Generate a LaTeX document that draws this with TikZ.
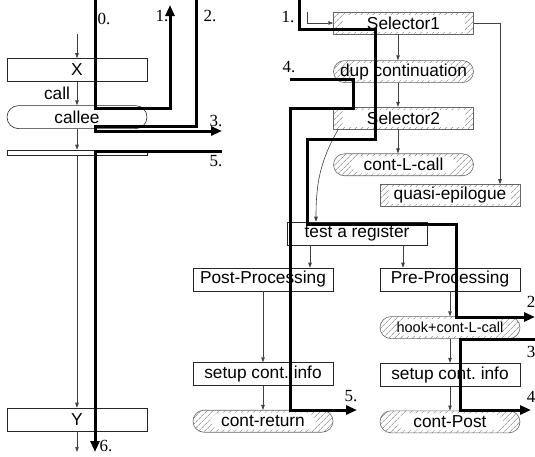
\documentclass[tikz,border=0pt]{standalone}
\usepackage{fontspec}
\setmainfont{Liberation Serif}
\setsansfont{Liberation Sans}
\usetikzlibrary{arrows.meta, positioning, patterns.meta}

\begin{document}
\begin{tikzpicture}[
    x=1pt, y=-1pt,
    font=\sffamily\fontsize{17.3}{20}\selectfont,
    box/.style={
        rectangle, minimum width=140pt, minimum height=23pt,
        inner sep=0pt, draw=black!85, line width=0.6pt, fill=white
    },
    hbox/.style={
        box, minimum height=22pt, draw=black!60,
        pattern={Lines[angle=45, distance=4pt, line width=0.5pt]},
        pattern color=black!55,
        path picture={\fill[white]
            ([shift={(#1,-2.5pt)}]path picture bounding box.north west) rectangle
            ([shift={(-#1,2.5pt)}]path picture bounding box.south east);}
    },
    hbox/.default=9pt,
    hround/.style={hbox=17pt, rounded corners=11pt},
    round/.style={box, rounded corners=11.5pt},
    num/.style={font=\rmfamily\fontsize{17}{20}\selectfont, inner sep=0pt},
    arr/.style={-{Triangle[length=5pt, width=3.5pt]}, draw=black!75, line width=0.6pt},
    flow/.style={-{Triangle[length=11pt, width=9pt]}, line width=3pt},
]
\useasboundingbox (0,0) rectangle (535,456);

%% ---- CALLER (left) ----
\node[box] (x) at (77,70) {X};
\node[round, below=23.5pt of x] (callee) {callee};
\node[box, minimum height=5pt] (bar) at (77,152.5) {};
\node[box] (y) at (77,419.5) {Y};
\node (call) at (57,93) {call};

\coordinate (xin) at (77,34);
\coordinate (yout) at (77,452);
\draw[arr] (xin) -- (x);
\draw[arr] (x) -- (callee);
\draw[arr] (callee) -- (bar);
\draw[arr] (bar) -- (y);
\draw[arr] (y) -- (yout);

%% ---- CALLEE (right) ----
\node[hbox] (sel1) at (403.5,23) {Selector1};
\node[hround, below=26pt of sel1] (dup) {dup continuation};
\node[hbox, below=24pt of dup] (sel2) {Selector2};
\node[hround, below=24pt of sel2] (contL) {cont-L-call};
\node[hbox] (quasi) at (450,195.5) {quasi-epilogue};
\node[box] (test) at (357,233.5) {test a register};

\node[box] (post) at (263,279.5) {Post-Processing};
\node[box, below=71pt of post] (setupL) {setup cont.\ info};
\node[hround, below=24pt of setupL] (ret) {cont-return};

\node[box] (pre) at (450,279.5) {Pre-Processing};
\node[hround, below=25pt of pre, font=\sffamily\fontsize{14.5}{17}\selectfont] (hook) {hook+cont-L-call};
\node[box, below=24pt of hook] (setupR) {setup cont.\ info};
\node[hround, below=24pt of setupR] (cpost) {cont-Post};

\coordinate (selin) at (307,12);
\coordinate (colx) at (398,0);
\coordinate (quasx) at (500,0);
\coordinate (curvx) at (316,0);
\coordinate (postx) at (310,0);
\coordinate (prex) at (403,0);

\draw[arr] (selin) |- (sel1.west);
\draw[arr] (sel1.south -| colx) -- (dup.north -| colx);
\draw[arr] (dup.south -| colx) -- (sel2.north -| colx);
\draw[arr] (sel2.south -| colx) -- (contL.north -| colx);
\draw[arr] (sel1.east) -| (quasi.north -| quasx);
\draw[arr] ([xshift=5pt]sel2.south west) to[out=-120, in=90] (test.north -| curvx);
\draw[arr] (test.south -| postx) -- (post.north -| postx);
\draw[arr] (test.south -| prex) -- (pre.north -| prex);
\draw[arr] (post) -- (setupL);
\draw[arr] (setupL) -- (ret);
\draw[arr] (pre) -- (hook);
\draw[arr] (hook) -- (setupR);
\draw[arr] (setupR) -- (cpost);

%% ---- CONTROL FLOW (thick) ----
\coordinate (l0) at (95,0);    \coordinate (l1) at (170,5);
\coordinate (l2) at (196,0);   \coordinate (l3) at (222,131);
\coordinate (l5) at (222,151); \coordinate (l6) at (95,452);
\draw[flow] (l0) |- (170,108) -- (l1);
\draw[flow] (l2) |- (95,126) |- (l3);
\draw[flow, -] (l5) -| (95,440);
\draw[flow] (95,440) -- (l6);

\coordinate (r1) at (299,0);   \coordinate (r2) at (535,317);
\coordinate (r3) at (535,339); \coordinate (r4) at (531,410);
\coordinate (r4in) at (290,79); \coordinate (r5) at (357,410);
\draw[flow] (r1) |- (375,29) |- (307,139) |- (456,224) |- (r2);
\draw[flow] (r4in) -| (353,108) -| (290,410) -- (r5);
\draw[flow] (r3) -| (460,410) -- (r4);

%% ---- LABELS ----
\node[num] (n0) at (104,19) {0.};
\node[num] (n1) at (162,16) {1.};
\node[num] (n2) at (210,16) {2.};
\node[num] (n3) at (216,121) {3.};
\node[num] (n5) at (216,161) {5.};
\node[num] (n6) at (106,446) {6.};
\node[num] (m1) at (288,17) {1.};
\node[num] (m4) at (289,67) {4.};
\node[num] (m5) at (351,396) {5.};
\node[num] (m2) at (531,302) {2};
\node[num] (m3) at (531,352) {3};
\node[num] (m4b) at (531,397) {4};

\end{tikzpicture}
\end{document}
